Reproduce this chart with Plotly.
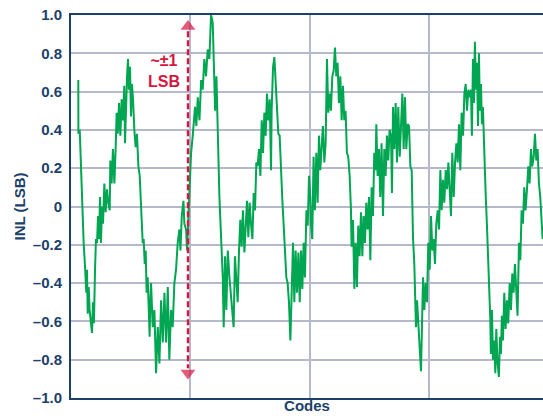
import plotly.graph_objects as go

# INL curve: codes (x) and INL in LSB (y)
codes = [61, 62, 73, 84, 95, 106, 117, 128, 134, 140, 148, 156, 167, 176, 184, 192, 201, 209, 218, 226, 234, 243, 251, 259, 268, 279, 290, 301, 312, 324, 329, 340, 351, 363, 374, 382, 391, 402, 413, 424, 435, 446, 452, 460, 469, 477, 485, 494, 502, 510, 519, 530, 541, 552, 564, 575, 583, 591, 600, 608, 617, 625, 633, 642, 650, 658, 664,
         670, 684, 698, 712, 726, 740, 754, 768, 782, 796, 810, 823, 837, 851, 865, 879, 893, 907, 916, 927, 941, 949, 963, 971, 982, 994, 999, 1005, 1019, 1027, 1038, 1049, 1061, 1075, 1089, 1102, 1116, 1130, 1144, 1158, 1172, 1186, 1195, 1206, 1217, 1228, 1242, 1256, 1270, 1278, 1289, 1300, 1312, 1326,
         1339, 1353, 1361, 1372, 1384, 1395, 1406, 1417, 1428, 1439, 1451, 1462, 1473, 1484, 1495, 1506, 1518, 1529, 1540, 1551, 1562, 1573, 1585, 1596, 1607, 1618, 1629, 1640, 1651, 1663, 1674, 1679, 1691, 1702, 1713, 1724, 1735, 1746, 1758, 1769, 1780, 1791, 1802, 1813, 1824, 1836, 1847, 1858, 1869, 1880, 1891, 1903, 1914, 1925, 1936, 1947, 1958, 1970, 1981, 1992, 2003,
         2008, 2019, 2030, 2041, 2053, 2064, 2075, 2086, 2097, 2108, 2120, 2131, 2142, 2153, 2164, 2175, 2187, 2198, 2209, 2220, 2231, 2242, 2254, 2265, 2276, 2287, 2298, 2309, 2320, 2332, 2343, 2348, 2360, 2371, 2382, 2393, 2404, 2415, 2427, 2438, 2449, 2460, 2471, 2482, 2494, 2505, 2516, 2527, 2538, 2549, 2555, 2566, 2577, 2588, 2599, 2611, 2622, 2633, 2644, 2655, 2666,
         2678, 2686, 2695, 2706, 2717, 2728, 2739, 2751, 2762, 2773, 2784, 2795, 2806, 2818, 2829, 2840, 2851, 2857, 2862, 2873, 2879, 2887, 2896, 2907, 2918, 2929, 2937, 2946, 2957, 2968, 2979, 2990, 3002, 3013, 3024, 3035, 3046, 3057, 3069, 3080, 3091, 3102, 3113, 3124, 3136, 3147, 3158, 3169, 3180, 3191, 3203, 3214, 3225, 3236, 3247, 3258, 3269, 3281, 3292, 3303, 3314, 3325, 3336,
         3347, 3355, 3364, 3372, 3380, 3389, 3397, 3406, 3414, 3422, 3431, 3439, 3447, 3459, 3470, 3481, 3487, 3492, 3500, 3509, 3514, 3523, 3531, 3542, 3551, 3559, 3570, 3581, 3590, 3598, 3606, 3615, 3626, 3637, 3648, 3659, 3671, 3682, 3693, 3704, 3715, 3726, 3737, 3749, 3760, 3771, 3782, 3793, 3804, 3816, 3827, 3838, 3849, 3860, 3872, 3883, 3894, 3905, 3916, 3927, 3938, 3947]

inl = [0.66, 0.38, 0.40, 0.16, -0.02, -0.19, -0.31, -0.45, -0.33, -0.56, -0.42, -0.54, -0.61, -0.66, -0.50, -0.61, -0.33, -0.17, -0.19, -0.05, -0.17, 0.05, -0.19, 0.0, -0.09, 0.12, -0.03, 0.09, 0.02, -0.02, 0.24, 0.12, 0.30, 0.12, 0.31, 0.49, 0.38, 0.54, 0.37, 0.56, 0.45, 0.63, 0.33, 0.59, 0.68, 0.77, 0.61, 0.73, 0.47, 0.64, 0.56, 0.40, 0.31, 0.38, 0.21, 0.16, 0.02, -0.09, -0.19, -0.17, -0.30, -0.23, -0.45, -0.37, -0.56, -0.68, -0.49,
       -0.40, -0.63, -0.54, -0.87, -0.63, -0.82, -0.49, -0.71, -0.45, -0.71, -0.42, -0.80, -0.54, -0.63, -0.40, -0.33, -0.19, -0.12, -0.23, -0.05, 0.03, -0.09, -0.12, -0.23, -0.05, 0.09, 0.19, 0.28, 0.37, 0.45, 0.52, 0.42, 0.57, 0.45, 0.66, 0.61, 0.77, 0.68, 0.82, 0.77, 1.0, 0.96, 0.77, 0.50, 0.68, 0.33, 0.05, -0.16, -0.37, -0.63, -0.26, -0.54, -0.23, -0.37,
       -0.47, -0.54, -0.63, -0.26, -0.40, -0.50, -0.23, -0.07, -0.21, -0.02, -0.24, -0.09, 0.03, -0.16, 0.02, -0.09, -0.17, 0.07, -0.02, 0.23, 0.21, 0.30, 0.16, 0.45, 0.28, 0.49, 0.37, 0.59, 0.45, 0.56, 0.19, 0.50, 0.73, 0.78, 0.64, 0.49, 0.38, 0.37, 0.16, 0.03, -0.10, -0.23, -0.37, -0.40, -0.50, -0.70, -0.42, -0.19, -0.50, -0.23, -0.45, -0.24, -0.50, -0.23, -0.43, -0.19, -0.37, -0.02, -0.10, 0.16, 0.05,
       -0.09, -0.17, 0.26, -0.02, 0.28, 0.02, 0.37, 0.19, 0.33, 0.42, 0.23, 0.33, 0.77, 0.49, 0.59, 0.50, 0.68, 0.71, 0.83, 0.68, 0.75, 0.54, 0.68, 0.45, 0.63, 0.45, 0.50, 0.28, 0.26, 0.16, -0.02, -0.21, -0.07, -0.43, -0.19, -0.42, -0.10, -0.26, -0.03, -0.26, -0.05, -0.19, 0.02, -0.12, 0.05, -0.28, 0.10, -0.05, 0.28, 0.19, 0.43, 0.16, 0.30, 0.05, 0.33, -0.05, 0.30, 0.16, 0.37, 0.24, 0.40,
       0.37, 0.07, 0.52, 0.30, 0.54, 0.23, 0.52, 0.26, 0.45, 0.59, 0.30, 0.57, 0.30, 0.43, 0.42, 0.21, 0.19, -0.02, -0.16, -0.30, -0.45, -0.63, -0.49, -0.64, -0.71, -0.86, -0.63, -0.37, -0.54, -0.40, -0.50, -0.19, -0.33, -0.05, -0.23, -0.17, -0.30, -0.09, -0.02, -0.12, 0.19, -0.02, 0.14, 0.02, 0.19, 0.09, 0.23, 0.12, -0.05, 0.28, 0.05, 0.23, 0.33, 0.23, 0.43, 0.19, 0.49, 0.37, 0.59, 0.64, 0.50, 0.61, 0.57,
       0.61, 0.37, 0.77, 0.54, 0.86, 0.61, 0.75, 0.42, 0.80, 0.50, 0.64, 0.43, 0.52, 0.23, 0.07, -0.10, -0.19, -0.31, -0.45, -0.59, -0.77, -0.54, -0.80, -0.70, -0.87, -0.64, -0.82, -0.89, -0.68, -0.77, -0.57, -0.70, -0.45, -0.64, -0.49, -0.61, -0.40, -0.54, -0.35, -0.45, -0.30, -0.45, -0.57, -0.19, -0.28, -0.02, -0.09, 0.10, -0.02, 0.09, 0.21, 0.12, 0.30, 0.21, 0.26, 0.38, 0.24, 0.30, 0.12, 0.05, -0.10, -0.17]

y_ticks = [1.0, 0.8, 0.6, 0.4, 0.2, 0, -0.2, -0.4, -0.6, -0.8, -1.0]
y_tick_labels = ["1.0", "0.8", "0.6", "0.4", "0.2", "0", "–0.2", "–0.4", "–0.6", "–0.8", "–1.0"]
x_grid = [1000, 2000, 3000]

arrow_code = 979
arrow_top = 0.985
arrow_bottom = -0.915

navy = "#1d3f6b"
green = "#00a651"
red = "#d4173f"
grid = "#b6b9cb"
fam = "Liberation Sans, Arial, sans-serif"

fig = go.Figure()
fig.add_trace(go.Scatter(x=codes, y=inl, mode="lines",
                         line=dict(color=green, width=2), hoverinfo="skip"))
fig.add_trace(go.Scatter(x=[arrow_code, arrow_code], y=[arrow_top - 0.07, arrow_bottom + 0.07],
                         mode="lines", line=dict(color=red, width=2.4, dash="6px,3px"),
                         hoverinfo="skip"))
fig.add_trace(go.Scatter(x=[arrow_code, arrow_code], y=[arrow_top - 0.045, arrow_bottom + 0.045],
                         mode="markers",
                         marker=dict(symbol=["triangle-up", "triangle-down"], size=[13, 13],
                                     color=red, line=dict(width=0)),
                         hoverinfo="skip"))

fig.add_annotation(x=775, y=0.705, text="~±1<br>LSB", showarrow=False,
                   font=dict(family=fam, size=16, color=red, weight="bold"),
                   align="center")

fig.update_layout(
    width=543, height=419,
    margin=dict(l=71, r=0, t=15, b=21, autoexpand=False),
    plot_bgcolor="white", paper_bgcolor="white",
    showlegend=False,
    font=dict(family=fam, color=navy, size=15),
)
fig.update_xaxes(range=[0, 3950], tickvals=x_grid, showticklabels=False,
                 showgrid=True, gridcolor=grid, gridwidth=1.5, zeroline=False,
                 showline=True, linecolor=navy, linewidth=2, mirror=True, ticks="",
                 title=dict(text="Codes", standoff=1,
                            font=dict(family=fam, size=15, color=navy, weight="bold")))
fig.update_yaxes(range=[-1.0, 1.0], tickvals=y_ticks, ticktext=y_tick_labels,
                 tickfont=dict(family=fam, size=15, color=navy, weight="bold"),
                 showgrid=True, gridcolor=grid, gridwidth=1.5, zeroline=False,
                 showline=True, linecolor=navy, linewidth=2, ticks="", ticklen=0,
                 ticklabelstandoff=4,
                 title=dict(text="INL (LSB)", standoff=4,
                            font=dict(family=fam, size=15, color=navy, weight="bold")))

fig.write_html("out.html", config={"displayModeBar": False},
               post_script="document.body.style.margin='0';document.body.style.overflow='hidden';")
